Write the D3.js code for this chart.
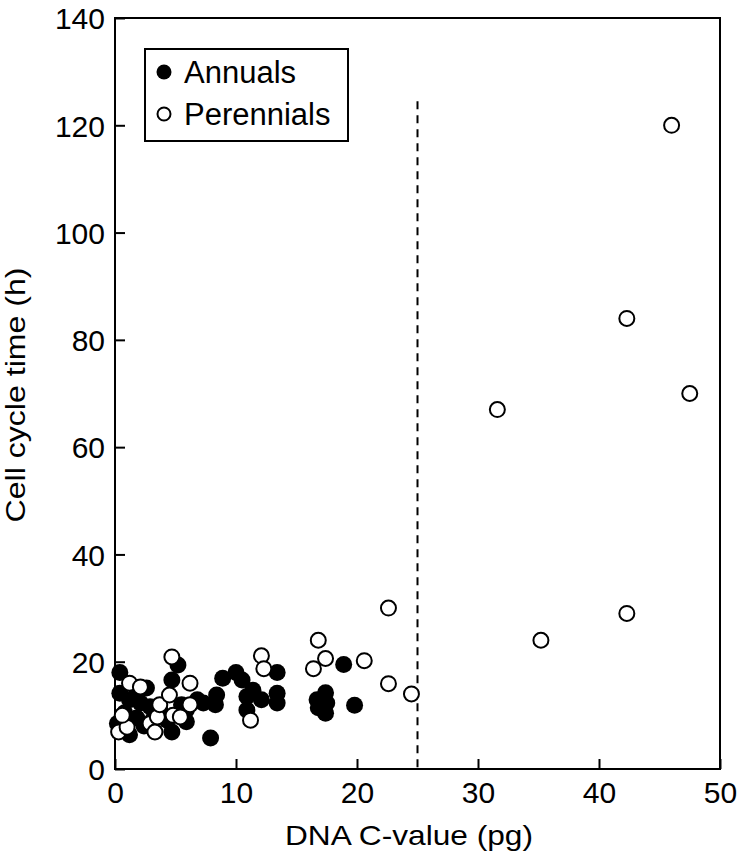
<!DOCTYPE html>
<html>
<head>
<meta charset="utf-8">
<script src="https://cdn.jsdelivr.net/npm/d3@7"></script>
<style>
  body { margin: 0; background: #fff; }
  svg text { font-family: "Liberation Sans", Arial, sans-serif; fill: #000; }
</style>
</head>
<body>
<svg id="chart" width="740" height="853"></svg>
<script>
// annuals: [C-value pg, cell cycle h]
const annuals = [
  [0.4, 18], [0.4, 14.1], [0.2, 8.5], [1.2, 6.4], [1.8, 9.5], [1.8, 14.7],
  [2.6, 15.1], [2.9, 11.6], [2.1, 12.3], [1.2, 12.9], [0.8, 10.5], [2.4, 8],
  [3.1, 9.1], [3.7, 11], [4.3, 9.1], [4.7, 6.9], [4.7, 16.6], [5.2, 19.4],
  [5.5, 12], [5.9, 11], [5.9, 8.8], [6.8, 12.9], [7.3, 12.3], [7.9, 5.8],
  [8.3, 12], [8.4, 13.8], [8.9, 16.9], [10, 18], [10.5, 16.6], [10.9, 13.5],
  [10.9, 11], [11.4, 14.7], [12.1, 12.9], [13.4, 18], [13.4, 14.1], [13.4, 12.3],
  [16.7, 12.9], [16.8, 11.4], [17.4, 14.2], [17.4, 10.4], [17.5, 12.3],
  [18.9, 19.5], [19.8, 11.9]
];

const perennials = [
  [0.3, 6.9], [1.0, 7.8], [0.6, 10], [1.2, 16], [2.1, 15.3], [2.9, 8.5],
  [3.3, 6.9], [3.5, 9.7], [3.7, 12], [4.5, 13.8], [4.8, 10], [5.4, 9.7],
  [4.7, 20.9], [6.2, 16], [6.2, 12], [11.2, 9.1], [12.1, 21.1], [12.3, 18.7],
  [16.4, 18.7], [16.8, 24], [17.4, 20.6], [20.6, 20.2], [22.6, 30], [22.6, 15.9],
  [24.5, 14], [31.6, 67], [35.2, 24], [42.3, 29], [42.3, 84], [46.0, 120], [47.5, 70]
];

const xTicks = [0, 10, 20, 30, 40, 50];
const yTicks = [0, 20, 40, 60, 80, 100, 120, 140];
const cutoff = 25;
const cutoffTop = 124.5;

const plot = { left: 115, right: 720, top: 18, bottom: 769 };

const svg = d3.select("#chart");

const x = d3.scaleLinear().domain([0, 50]).range([plot.left, plot.right]);
const y = d3.scaleLinear().domain([0, 140]).range([plot.bottom, plot.top]);

// frame
svg.append("rect")
  .attr("x", plot.left).attr("y", plot.top)
  .attr("width", plot.right - plot.left).attr("height", plot.bottom - plot.top)
  .attr("fill", "none").attr("stroke", "#000").attr("stroke-width", 2);

// axes, ticks pointing inward
const xAxisG = svg.append("g")
  .attr("transform", "translate(0," + plot.bottom + ")")
  .call(d3.axisBottom(x).tickValues(xTicks).tickSizeInner(-10).tickSizeOuter(0).tickPadding(8));
xAxisG.select(".domain").remove();
xAxisG.selectAll("line").attr("stroke-width", 2);
xAxisG.selectAll("text")
  .attr("font-size", 30)
  .attr("font-family", "Liberation Sans, Arial, sans-serif")
  .attr("dy", "0.88em");

const yAxisG = svg.append("g")
  .attr("transform", "translate(" + plot.left + ",0)")
  .call(d3.axisLeft(y).tickValues(yTicks).tickSizeInner(-10).tickSizeOuter(0).tickPadding(10));
yAxisG.select(".domain").remove();
yAxisG.selectAll("line").attr("stroke-width", 2);
yAxisG.selectAll("text")
  .attr("font-size", 30)
  .attr("font-family", "Liberation Sans, Arial, sans-serif")
  .attr("dy", "0.36em");

// axis titles
svg.append("text")
  .attr("x", 409)
  .attr("y", 845)
  .attr("text-anchor", "middle")
  .attr("font-size", 28)
  .attr("textLength", 248)
  .attr("lengthAdjust", "spacingAndGlyphs")
  .text("DNA C-value (pg)");

svg.append("text")
  .attr("transform", "translate(25,395) rotate(-90)")
  .attr("text-anchor", "middle")
  .attr("font-size", 27)
  .attr("textLength", 255)
  .attr("lengthAdjust", "spacingAndGlyphs")
  .text("Cell cycle time (h)");

// dashed cut-off line
svg.append("line")
  .attr("x1", x(cutoff)).attr("x2", x(cutoff))
  .attr("y1", y(cutoffTop)).attr("y2", plot.bottom)
  .attr("stroke", "#000").attr("stroke-width", 2)
  .attr("stroke-dasharray", "8,6");

// points
svg.append("g").selectAll("circle")
  .data(annuals)
  .enter()
  .append("circle")
  .attr("cx", d => x(d[0]))
  .attr("cy", d => y(d[1]))
  .attr("r", 8.5)
  .attr("fill", "#000");

svg.append("g").selectAll("circle")
  .data(perennials)
  .enter()
  .append("circle")
  .attr("cx", d => x(d[0]))
  .attr("cy", d => y(d[1]))
  .attr("r", 7.5)
  .attr("fill", "#fff")
  .attr("stroke", "#000")
  .attr("stroke-width", 2);

// legend
const legend = svg.append("g");
legend.append("rect")
  .attr("x", 145).attr("y", 49)
  .attr("width", 203).attr("height", 92)
  .attr("fill", "#fff").attr("stroke", "#000").attr("stroke-width", 2);

const legendItems = [
  { label: "Annuals", filled: true },
  { label: "Perennials", filled: false }
];
legendItems.forEach((item, i) => {
  const cy = 72 + i * 42;
  legend.append("circle")
    .attr("cx", 164).attr("cy", cy)
    .attr("r", item.filled ? 7.5 : 6.5)
    .attr("fill", item.filled ? "#000" : "#fff")
    .attr("stroke", "#000").attr("stroke-width", item.filled ? 0 : 2);
  legend.append("text")
    .attr("x", 184).attr("y", cy + 11)
    .attr("font-size", 31)
    .text(item.label);
});
</script>
</body>
</html>
